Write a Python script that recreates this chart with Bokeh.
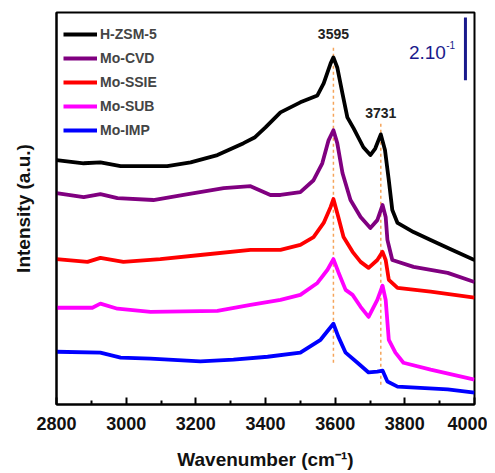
from bokeh.plotting import figure
from bokeh.models import Legend, LegendItem, Range1d, FixedTicker
from bokeh.embed import file_html
from bokeh.resources import INLINE
from bokeh.core.properties import value

# ---- data (absorbance, offset per sample, a.u.) ----
wn_hzsm5 = [2800, 2878, 2926, 2984, 3118, 3185, 3262, 3337, 3370, 3400, 3443, 3500, 3549, 3567,
            3587, 3595, 3606, 3621, 3635, 3653, 3681, 3701, 3715, 3731, 3743, 3754, 3764, 3779,
            3825, 3874, 3930, 4000]
int_hzsm5 = [0.778, 0.768, 0.771, 0.759, 0.759, 0.771, 0.794, 0.832, 0.851, 0.882, 0.930, 0.962,
             0.984, 1.022, 1.086, 1.105, 1.073, 0.990, 0.914, 0.879, 0.819, 0.794, 0.815, 0.860,
             0.810, 0.714, 0.619, 0.578, 0.549, 0.524, 0.495, 0.460]

wn_cvd = [2800, 2878, 2926, 2975, 3078, 3165, 3280, 3357, 3414, 3443, 3500, 3538, 3563, 3581,
          3595, 3606, 3621, 3644, 3673, 3701, 3721, 3736, 3745, 3750, 3764, 3825, 3923, 4000]
int_cvd = [0.673, 0.660, 0.670, 0.657, 0.651, 0.667, 0.689, 0.695, 0.667, 0.667, 0.676, 0.714,
           0.768, 0.841, 0.873, 0.832, 0.737, 0.651, 0.597, 0.562, 0.587, 0.635, 0.597, 0.524,
           0.460, 0.438, 0.419, 0.390]

wn_ssie = [2800, 2889, 2926, 2992, 3098, 3213, 3357, 3443, 3500, 3538, 3567, 3587, 3595, 3609,
           3624, 3650, 3673, 3696, 3721, 3736, 3745, 3754, 3779, 3874, 4000]
int_ssie = [0.463, 0.454, 0.467, 0.454, 0.463, 0.476, 0.492, 0.492, 0.508, 0.533, 0.578, 0.629,
            0.654, 0.597, 0.533, 0.486, 0.454, 0.435, 0.460, 0.486, 0.460, 0.397, 0.371, 0.359,
            0.340]

wn_sub = [2800, 2903, 2926, 2975, 3070, 3262, 3357, 3443, 3500, 3549, 3578, 3595, 3609, 3630,
          3650, 3673, 3696, 3721, 3736, 3745, 3754, 3773, 3796, 3874, 4000]
int_sub = [0.308, 0.308, 0.321, 0.305, 0.295, 0.298, 0.317, 0.333, 0.349, 0.387, 0.429, 0.463,
           0.422, 0.365, 0.349, 0.311, 0.279, 0.333, 0.378, 0.333, 0.206, 0.165, 0.133, 0.111,
           0.079]

wn_imp = [2800, 2926, 2984, 3070, 3213, 3308, 3406, 3500, 3558, 3581, 3595, 3609, 3630, 3664,
          3696, 3721, 3736, 3750, 3779, 3923, 4000]
int_imp = [0.168, 0.165, 0.149, 0.146, 0.137, 0.143, 0.152, 0.165, 0.206, 0.238, 0.257, 0.216,
           0.165, 0.133, 0.102, 0.105, 0.108, 0.073, 0.057, 0.048, 0.038]

series_names = ["H-ZSM-5", "Mo-CVD", "Mo-SSIE", "Mo-SUB", "Mo-IMP"]
series_colors = ["#000000", "#800080", "#FF0000", "#FF00FF", "#0000FF"]

peak_pos = [3595, 3731]
peak_labels = ["3595", "3731"]
peak_label_y = [1.181, 0.927]
peak_line_top = [1.143, 0.898]
peak_line_bottom = [0.133, 0.063]

scale_x = 3974
scale_bottom = 1.032
scale_length = 0.2

x_ticks = [2800, 3000, 3200, 3400, 3600, 3800, 4000]
x_minor = [2900, 3100, 3300, 3500, 3700, 3900]

FONT = "Liberation Sans"

p = figure(width=487, height=472, output_backend="svg", toolbar_location=None,
           x_range=Range1d(2800, 4000), y_range=Range1d(0, 1.248),
           min_border_left=56, min_border_top=12, min_border_right=13, min_border_bottom=67)
p.xgrid.visible = False
p.ygrid.visible = False
p.outline_line_color = "black"
p.outline_line_width = 2
p.background_fill_color = "white"
p.border_fill_color = "white"

series = [(wn_hzsm5, int_hzsm5), (wn_cvd, int_cvd), (wn_ssie, int_ssie),
          (wn_sub, int_sub), (wn_imp, int_imp)]

# dashed peak markers
p.segment(x0=peak_pos, y0=peak_line_bottom, x1=peak_pos, y1=peak_line_top,
          line_color="#F5A45A", line_width=1.5, line_dash="3 3")

items = []
for (x, y), name, col in zip(series, series_names, series_colors):
    r = p.line(x, y, line_color=col, line_width=3.8, line_join="round")
    items.append(LegendItem(label=name, renderers=[r]))

p.text(x=peak_pos, y=peak_label_y, text=peak_labels, text_align="center",
       text_baseline="middle", text_font=value(FONT), text_font_size="14px",
       text_font_style="bold", text_color="#222222")

# scale bar
p.segment(x0=[scale_x], y0=[scale_bottom], x1=[scale_x], y1=[scale_bottom + scale_length],
          line_color="#1A1A8C", line_width=3)
p.text(x=[scale_x - 56], y=[scale_bottom + scale_length * 0.45], text=["2.10"],
       text_align="right", text_baseline="middle", text_font=value(FONT),
       text_font_size="19px", text_color="#1A1A8C")
p.text(x=[scale_x - 55], y=[scale_bottom + scale_length * 0.56], text=["-1"],
       text_align="left", text_baseline="middle", text_font=value(FONT),
       text_font_size="10px", text_color="#1A1A8C")

legend = Legend(items=items, location=(7, 264), orientation="vertical",
                border_line_alpha=0, background_fill_alpha=0,
                glyph_width=34, glyph_height=20, label_height=20, label_standoff=3,
                spacing=4, padding=0, margin=0,
                label_text_font=FONT, label_text_font_size="14px",
                label_text_font_style="bold")
p.add_layout(legend)

# axes
p.xaxis.ticker = FixedTicker(ticks=x_ticks, minor_ticks=x_minor)
p.xaxis.major_tick_in = 7
p.xaxis.major_tick_out = 0
p.xaxis.minor_tick_in = 4
p.xaxis.minor_tick_out = 0
p.xaxis.major_tick_line_width = 2
p.xaxis.minor_tick_line_width = 2
p.xaxis.axis_line_width = 2
p.xaxis.major_label_text_font = FONT
p.xaxis.major_label_text_font_size = "18px"
p.xaxis.major_label_text_font_style = "bold"
p.xaxis.major_label_text_color = "#111111"
p.xaxis.major_label_standoff = 12
p.xaxis.axis_label = "Wavenumber (cm\u207b\u00b9)"
p.xaxis.axis_label_text_font = FONT
p.xaxis.axis_label_text_font_size = "19px"
p.xaxis.axis_label_text_font_style = "bold"
p.xaxis.axis_label_text_color = "#111111"
p.xaxis.axis_label_standoff = 16

p.yaxis.ticker = FixedTicker(ticks=[])
p.yaxis.axis_line_width = 2
p.yaxis.major_tick_line_color = None
p.yaxis.minor_tick_line_color = None
p.yaxis.axis_label = "Intensity (a.u.)"
p.yaxis.axis_label_text_font = FONT
p.yaxis.axis_label_text_font_size = "19px"
p.yaxis.axis_label_text_font_style = "bold"
p.yaxis.axis_label_text_color = "#111111"
p.yaxis.axis_label_standoff = 23

open("out.html", "w").write(file_html(p, INLINE))
